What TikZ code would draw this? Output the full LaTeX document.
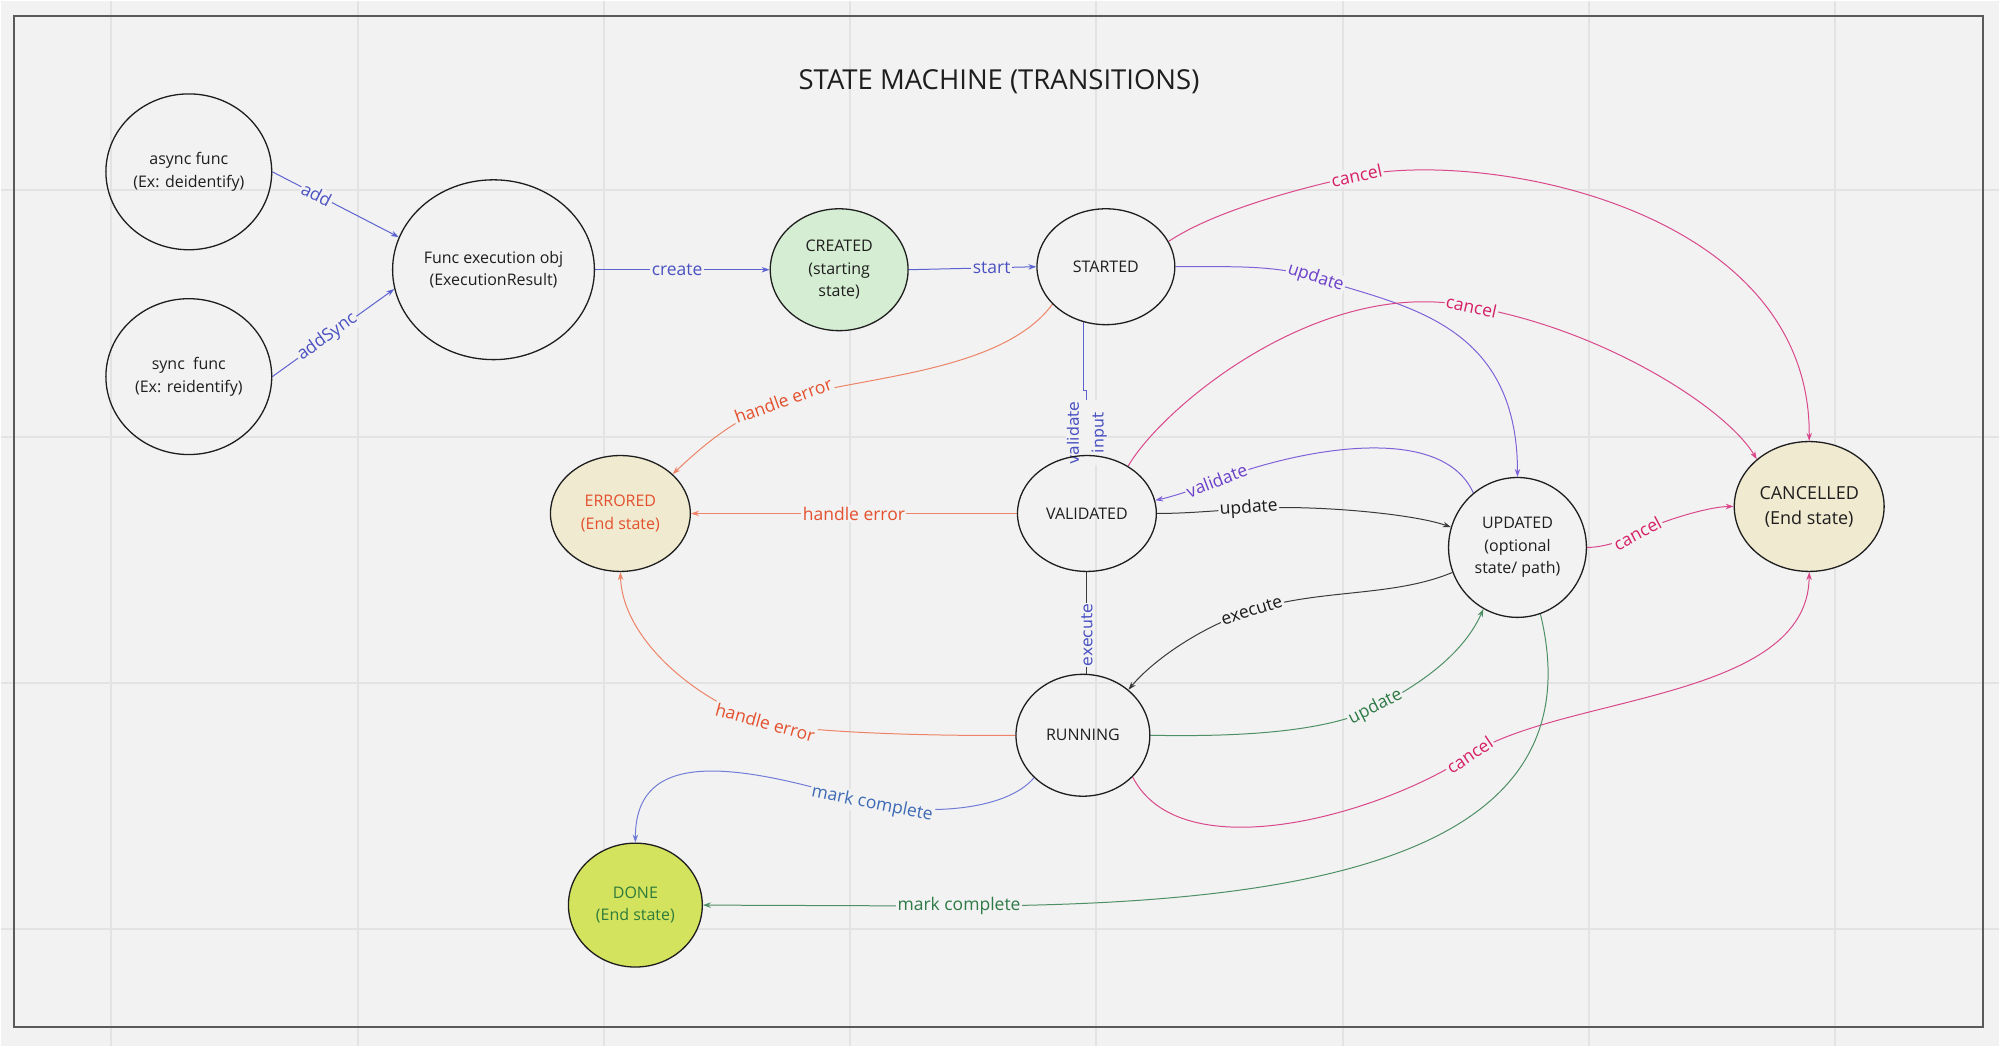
\documentclass[tikz,border=0pt]{standalone}
\usepackage{fontspec}
\setmainfont{Open Sans}
\newfontfamily\vertfont{DejaVu Sans}
\usetikzlibrary{shapes.geometric,arrows.meta}
\definecolor{bgc}{HTML}{F2F2F2}
\definecolor{gridc}{HTML}{E3E3E3}
\definecolor{framec}{HTML}{5A5A5A}
\definecolor{ink}{HTML}{1E1E1E}
\definecolor{blueE}{HTML}{5C63D1}
\definecolor{blueT}{HTML}{4A51C2}
\definecolor{purE}{HTML}{7E62D8}
\definecolor{purT}{HTML}{6B3FC9}
\definecolor{canE}{HTML}{D9488A}
\definecolor{canT}{HTML}{D61F66}
\definecolor{errE}{HTML}{EE8467}
\definecolor{errT}{HTML}{E4502D}
\definecolor{grnE}{HTML}{4E8F66}
\definecolor{grnT}{HTML}{2D7A46}
\definecolor{mcE}{HTML}{717CD6}
\definecolor{mcT}{HTML}{3D6AB5}
\definecolor{blkE}{HTML}{3A3A3A}
\definecolor{blkT}{HTML}{1A1A1A}
\definecolor{fillCreated}{HTML}{D5EDD2}
\definecolor{fillEnd}{HTML}{F0EAD0}
\definecolor{fillDone}{HTML}{D3E35E}
\definecolor{doneT}{HTML}{2F7B3B}
\pgfdeclarelayer{bglayer}
\pgfdeclarelayer{edgelayer}
\pgfsetlayers{bglayer,edgelayer,main}
\begin{document}
\begin{tikzpicture}[x=1pt,y=-1pt,
  state/.style={ellipse, draw=ink, line width=1.3pt, inner sep=0pt, align=center, text=ink, font=\fontsize{16}{22.5}\selectfont},
  lbl/.style={fill=bgc, inner sep=1.5pt, font=\fontsize{17.5}{20}\selectfont},
  slbl/.style={lbl, sloped, pos=1},
  vlbl/.style={fill=bgc, inner sep=1pt, align=center, font=\vertfont\fontsize{15.7}{25}\selectfont},
  tr/.style={line width=1pt, -{Stealth[length=8pt,width=5.5pt]}}]
\begin{pgfonlayer}{bglayer}
\fill[bgc] (0,0) rectangle (2000,1046);
\foreach \gx in {110.5,357,603.5,850,1096.5,1343,1589.5,1836}
  \draw[gridc,line width=2pt] (\gx,0) -- (\gx,1046);
\foreach \gy in {189,436,683,929}
  \draw[gridc,line width=2pt] (0,\gy) -- (2000,\gy);
\draw[framec,line width=1.5pt] (13,15) rectangle (1984,1027);
\end{pgfonlayer}
\useasboundingbox (0,0) rectangle (2000,1046);

\node[text=ink, font=\fontsize{27.5}{32}\selectfont] (title) at (999,81) {STATE MACHINE (TRANSITIONS)};

\node[state, minimum width=166pt, minimum height=156pt] (async) at (188,171) {async func\\(Ex: deidentify)};
\node[state, minimum width=166pt, minimum height=156pt] (sync) at (188,376) {sync\ \ func\\(Ex: reidentify)};
\node[state, minimum width=202pt, minimum height=180pt] (func) at (493,269) {Func execution obj\\(ExecutionResult)};
\node[state, fill=fillCreated, minimum width=138pt, minimum height=122pt] (created) at (839,269) {CREATED\\(starting\\state)};
\node[state, minimum width=138pt, minimum height=116pt] (started) at (1106,266) {STARTED};
\node[state, fill=fillEnd, text=errT, minimum width=140pt, minimum height=116pt] (errored) at (620,513) {ERRORED\\(End state)};
\node[state, minimum width=139pt, minimum height=116pt] (validated) at (1087,513) {VALIDATED};
\node[state, minimum width=138pt, minimum height=140pt] (updated) at (1518,547) {UPDATED\\(optional\\state/ path)};
\node[state, fill=fillEnd, font=\fontsize{18}{25}\selectfont, minimum width=150pt, minimum height=130pt] (cancelled) at (1810,506) {CANCELLED\\(End state)};
\node[state, minimum width=134pt, minimum height=122pt] (running) at (1083,735) {RUNNING};
\node[state, fill=fillDone, text=doneT, minimum width=134pt, minimum height=124pt] (done) at (635,905) {DONE\\(End state)};

\begin{pgfonlayer}{edgelayer}
% add / addSync / create / start
\draw[tr, blueE] (async.0) -- node[lbl,sloped,pos=0.35,text=blueT]{add} (func.161);
\draw[tr, blueE] (sync.0) -- node[lbl,sloped,pos=0.45,text=blueT]{addSync} (func.191);
\draw[tr, blueE] (func.0) -- node[lbl,pos=0.47,text=blueT]{create} (created.180);
\draw[tr, blueE] (created.0) -- node[lbl,pos=0.65,text=blueT]{start} (started.180);
% STARTED -> UPDATED
\draw[tr, purE] (started.0) .. controls +(55,0) and +(-40,-13) .. (1316,277)
  node[slbl,text=purT]{update}
  .. controls +(84,28) and +(0,-157) .. (updated.90);
% STARTED -> CANCELLED
\draw[tr, canE] (started.22) .. controls +(45,-30) and +(-60,13) .. (1357,175)
  node[slbl,text=canT]{cancel}
  .. controls +(133,-27) and +(2,-231) .. (cancelled.90);
% VALIDATED -> CANCELLED
\draw[tr, canE] (validated.49) .. controls +(35,-60) and +(-150,-32) .. (1472,306)
  node[slbl,text=canT]{cancel}
  .. controls +(130,22) and +(-31,-52) .. (cancelled.138);
% UPDATED -> CANCELLED
\draw[tr, canE] (updated.0) .. controls +(15,0) and +(-15,8) .. (1638,533)
  node[slbl,text=canT]{cancel}
  .. controls +(22,-12) and +(-25,0) .. (cancelled.180);
% STARTED -> ERRORED
\draw[tr, errE] (started.215) .. controls +(-52,71) and +(67,-24) .. (783,400)
  node[slbl,text=errT]{handle error}
  .. controls +(-50,18) and +(30,-28) .. (errored.37);
% VALIDATED -> ERRORED
\draw[tr, errE] (validated.180) -- node[lbl,pos=0.5,text=errT]{handle error} (errored.0);
% RUNNING -> ERRORED
\draw[tr, errE] (running.180) .. controls +(-66,1) and +(40,11) .. (765,722)
  node[slbl,text=errT]{handle error}
  .. controls +(-65,-19) and +(2,69) .. (errored.270);
% VALIDATED -> UPDATED
\draw[tr, blkE] (validated.0) .. controls +(30,0) and +(-30,2) .. (1249,508)
  node[slbl,text=blkT]{update}
  .. controls +(60,-4) and +(-40,-14) .. (updated.163);
% UPDATED -> VALIDATED
\draw[tr, purE] (updated.129) .. controls +(-32,-71) and +(83,-32) .. (1217,480)
  node[slbl,text=purT]{validate}
  .. controls +(-25,10) and +(15,-3) .. (validated.11);
% UPDATED -> RUNNING
\draw[tr, blkE] (updated.201) .. controls +(-60,25) and +(70,-22) .. (1252,610)
  node[slbl,text=blkT]{execute}
  .. controls +(-50,16) and +(25,-30) .. (running.45);
% RUNNING -> UPDATED
\draw[tr, grnE] (running.0) .. controls +(100,2) and +(-45,23) .. (1376,707)
  node[slbl,text=grnT]{update}
  .. controls +(45,-23) and +(-20,45) .. (updated.241);
% RUNNING -> CANCELLED
\draw[tr, canE] (running.320) .. controls +(48,94) and +(-90,60) .. (1470,755)
  node[slbl,text=canT]{cancel}
  .. controls +(90,-60) and +(-1,129) .. (cancelled.270);
% UPDATED -> DONE
\draw[tr, grnE] (updated.289) .. controls +(60,247) and +(341,-1) .. (959,906)
  node[lbl,text=grnT]{mark complete} -- (done.0);
% RUNNING -> DONE
\draw[tr, mcE] (running.221) .. controls +(-30,35) and +(50,10) .. (872,804)
  node[slbl,text=mcT]{mark complete}
  .. controls +(-142,-44) and +(0,-93) .. (done.90);
% STARTED -> VALIDATED
\draw[line width=1pt, blueE] (started.248) -- ++(0,68) -| node[vlbl,pos=0.83,rotate=90,text=blueT]{validate\\input} (validated.north);
% VALIDATED -> RUNNING
\draw[line width=1pt, blkE] (validated.south) -- node[vlbl,pos=0.62,rotate=90,text=blueT]{execute} (validated.south |- running.north);
\end{pgfonlayer}
\end{tikzpicture}
\end{document}
